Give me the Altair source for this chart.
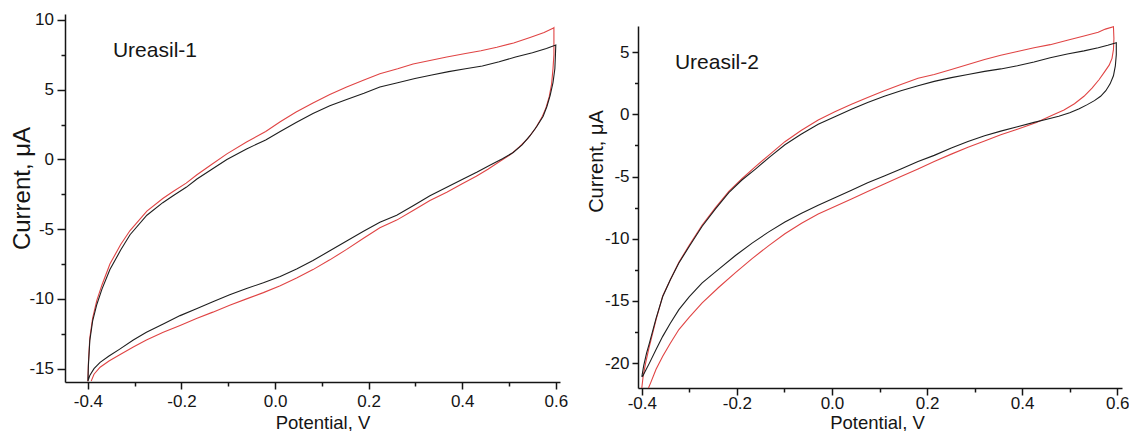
import altair as alt
import pandas as pd

# ---------------- Ureasil-1 (left panel) ----------------
u1_black_fwd_v = [-0.400, -0.399, -0.396, -0.390, -0.381, -0.370, -0.353, -0.330, -0.310, -0.274,
                  -0.240, -0.218, -0.190, -0.167, -0.135, -0.103, -0.061, -0.020, 0.011, 0.045,
                  0.081, 0.117, 0.153, 0.190, 0.224, 0.262, 0.299, 0.335, 0.371, 0.407,
                  0.443, 0.479, 0.514, 0.550, 0.580, 0.600]
u1_black_fwd_i = [-15.9, -14.8, -13.0, -11.6, -10.4, -9.3, -7.9, -6.5, -5.4, -4.0,
                  -3.1, -2.6, -2.0, -1.4, -0.7, 0.0, 0.75, 1.4, 2.0, 2.65,
                  3.3, 3.85, 4.3, 4.75, 5.2, 5.5, 5.8, 6.05, 6.3, 6.5,
                  6.7, 7.0, 7.35, 7.65, 7.95, 8.2]
u1_black_rev_v = [0.600, 0.599, 0.598, 0.594, 0.588, 0.581, 0.573, 0.560, 0.545, 0.528,
                  0.509, 0.486, 0.460, 0.432, 0.402, 0.367, 0.331, 0.296, 0.260, 0.224,
                  0.189, 0.153, 0.117, 0.081, 0.046, 0.011, -0.025, -0.061, -0.097, -0.133,
                  -0.168, -0.203, -0.239, -0.275, -0.303, -0.332, -0.355, -0.374, -0.387, -0.396, -0.400]
u1_black_rev_i = [8.2, 7.3, 6.5, 5.5, 4.6, 3.8, 3.1, 2.4, 1.7, 1.05,
                  0.5, 0.05, -0.4, -0.9, -1.4, -2.0, -2.6, -3.3, -4.0, -4.5,
                  -5.15, -5.85, -6.55, -7.25, -7.85, -8.4, -8.85, -9.25, -9.7, -10.2,
                  -10.7, -11.2, -11.8, -12.4, -12.95, -13.6, -14.1, -14.55, -15.0, -15.5, -15.9]
u1_red_fwd_v = [-0.400, -0.399, -0.396, -0.390, -0.381, -0.370, -0.353, -0.330, -0.310, -0.274,
                -0.240, -0.218, -0.190, -0.167, -0.135, -0.103, -0.061, -0.020, 0.011, 0.045,
                0.081, 0.117, 0.153, 0.190, 0.224, 0.262, 0.295, 0.331, 0.367, 0.407,
                0.440, 0.474, 0.510, 0.545, 0.575, 0.594, 0.596]
u1_red_fwd_i = [-15.9, -14.6, -12.8, -11.4, -10.1, -9.0, -7.5, -6.1, -5.1, -3.7,
                -2.8, -2.3, -1.7, -1.1, -0.35, 0.4, 1.25, 2.0, 2.7, 3.4,
                4.05, 4.65, 5.2, 5.7, 6.15, 6.5, 6.85, 7.1, 7.35, 7.6,
                7.8, 8.05, 8.35, 8.75, 9.1, 9.4, 9.45]
u1_red_rev_v = [0.596, 0.596, 0.596, 0.594, 0.591, 0.586, 0.579, 0.570, 0.556, 0.540,
                0.522, 0.503, 0.480, 0.455, 0.430, 0.400, 0.367, 0.331, 0.296, 0.260,
                0.224, 0.189, 0.153, 0.117, 0.081, 0.046, 0.011, -0.025, -0.061, -0.097,
                -0.133, -0.168, -0.203, -0.239, -0.275, -0.303, -0.332, -0.355, -0.374, -0.387, -0.393]
u1_red_rev_i = [9.45, 8.5, 7.5, 6.5, 5.4, 4.5, 3.7, 3.0, 2.2, 1.5,
                0.9, 0.35, -0.15, -0.7, -1.2, -1.75, -2.35, -2.95, -3.65, -4.35,
                -4.9, -5.65, -6.45, -7.2, -7.9, -8.5, -9.05, -9.55, -10.0, -10.45,
                -10.95, -11.4, -11.9, -12.4, -12.95, -13.45, -14.0, -14.45, -14.9, -15.4, -15.9]

# ---------------- Ureasil-2 (right panel) ----------------
u2_black_fwd_v = [-0.400, -0.396, -0.390, -0.384, -0.370, -0.356, -0.340, -0.322, -0.300, -0.273,
                  -0.245, -0.217, -0.190, -0.161, -0.130, -0.099, -0.065, -0.029, 0.006, 0.041,
                  0.075, 0.110, 0.145, 0.181, 0.215, 0.251, 0.286, 0.321, 0.355, 0.390,
                  0.425, 0.459, 0.495, 0.530, 0.560, 0.580, 0.598]
u2_black_fwd_i = [-21.1, -20.2, -19.2, -18.4, -16.4, -14.65, -13.3, -11.95, -10.6, -9.0,
                  -7.6, -6.3, -5.3, -4.4, -3.4, -2.45, -1.6, -0.8, -0.2, 0.4,
                  0.95, 1.45, 1.9, 2.3, 2.65, 2.95, 3.2, 3.45, 3.65, 3.9,
                  4.2, 4.55, 4.85, 5.1, 5.35, 5.55, 5.75]
u2_black_rev_v = [0.598, 0.598, 0.596, 0.592, 0.585, 0.576, 0.565, 0.552, 0.537, 0.520,
                  0.500, 0.477, 0.452, 0.425, 0.390, 0.355, 0.321, 0.286, 0.251, 0.215,
                  0.181, 0.145, 0.110, 0.075, 0.041, 0.006, -0.029, -0.064, -0.099, -0.133,
                  -0.168, -0.203, -0.238, -0.273, -0.300, -0.322, -0.340, -0.356, -0.370, -0.384,
                  -0.392, -0.398, -0.400]
u2_black_rev_i = [5.75, 4.8, 3.9, 3.1, 2.45, 1.9, 1.45, 1.1, 0.78, 0.45,
                  0.12, -0.15, -0.4, -0.65, -1.0, -1.35, -1.72, -2.18, -2.7, -3.3,
                  -3.8, -4.4, -4.95, -5.5, -6.1, -6.7, -7.3, -7.95, -8.65, -9.45,
                  -10.35, -11.35, -12.45, -13.55, -14.65, -15.7, -16.8, -17.85, -18.9, -20.0,
                  -20.6, -21.05, -21.1]
u2_red_fwd_v = [-0.400, -0.397, -0.392, -0.385, -0.370, -0.356, -0.340, -0.322, -0.300, -0.273,
                -0.245, -0.217, -0.190, -0.161, -0.130, -0.099, -0.065, -0.029, 0.006, 0.041,
                0.075, 0.110, 0.145, 0.181, 0.215, 0.251, 0.286, 0.321, 0.355, 0.390,
                0.425, 0.459, 0.495, 0.530, 0.560, 0.575, 0.592]
u2_red_fwd_i = [-22.0, -21.0, -20.0, -18.8, -16.5, -14.6, -13.3, -11.9, -10.5, -8.9,
                -7.5, -6.2, -5.2, -4.2, -3.2, -2.2, -1.3, -0.45, 0.2, 0.8,
                1.35, 1.9, 2.4, 2.9, 3.2, 3.6, 4.0, 4.4, 4.75, 5.05,
                5.35, 5.6, 5.95, 6.3, 6.6, 6.85, 7.05]
u2_red_rev_v = [0.592, 0.593, 0.592, 0.589, 0.583, 0.574, 0.562, 0.547, 0.530, 0.510,
                0.488, 0.462, 0.430, 0.390, 0.355, 0.321, 0.286, 0.251, 0.215, 0.181,
                0.145, 0.110, 0.075, 0.041, 0.006, -0.029, -0.064, -0.099, -0.133, -0.168,
                -0.203, -0.238, -0.273, -0.300, -0.322, -0.340, -0.356, -0.370, -0.381, -0.386]
u2_red_rev_i = [7.05, 6.1, 5.2, 4.5, 3.95, 3.45, 2.8, 2.1, 1.45, 0.85,
                0.35, -0.1, -0.65, -1.2, -1.65, -2.15, -2.65, -3.2, -3.8, -4.4,
                -5.0, -5.6, -6.2, -6.8, -7.4, -8.02, -8.75, -9.6, -10.55, -11.6,
                -12.72, -13.9, -15.15, -16.3, -17.3, -18.4, -19.45, -20.5, -21.55, -22.0]

# ---------------- ticks and labels ----------------
x_ticks = [-0.4, -0.3, -0.2, -0.1, 0.0, 0.1, 0.2, 0.3, 0.4, 0.5, 0.6]
u1_y_ticks = [-15, -12.5, -10, -7.5, -5, -2.5, 0, 2.5, 5, 7.5, 10]
u2_y_ticks = [-20, -17.5, -15, -12.5, -10, -7.5, -5, -2.5, 0, 2.5, 5]
panel_labels = ["Ureasil-1", "Ureasil-2"]
label_v = [-0.3465, -0.3304]
label_i = [7.32, 3.66]
x_title = "Potential, V"
y_title = "Current, \u03bcA"

FONT = "Liberation Sans"
INK = "#151515"
BLACK = "#1e1e1e"
RED = "#e04444"


def loop_df(fv, fi, rv, ri):
    v = list(fv) + list(rv)
    i = list(fi) + list(ri)
    return pd.DataFrame({"V": v, "I": i, "order": list(range(len(v)))})


X_MAJOR = "abs(round(datum.value*10)) % 2 == 0"
X_LABEL = X_MAJOR + " ? (datum.value < -0.001 ? '-' : '') + format(abs(datum.value), '.1f') : ''"
Y_MAJOR = "datum.value % 5 == 0"
Y_LABEL = Y_MAJOR + " ? (datum.value < 0 ? '-' : '') + format(abs(datum.value), 'd') : ''"

common_axis = dict(
    grid=False, domainColor=INK, domainWidth=1.5, tickColor=INK, tickWidth=1.5,
    labelFont=FONT, labelFontSize=17, labelColor=INK, labelFlush=False, labelOverlap=False,
    titleFont=FONT, titleColor=INK, titleFontWeight="normal",
)


def make_panel(red_df, black_df, xdom, xrange, ydom, yrange, xaxis, yaxis, lab_df):
    xs = alt.Scale(domain=xdom, range=xrange, nice=False, zero=False)
    ys = alt.Scale(domain=ydom, range=yrange, nice=False, zero=False)
    X = alt.X("V:Q", scale=xs, axis=xaxis)
    Y = alt.Y("I:Q", scale=ys, axis=yaxis)
    red = alt.Chart(red_df).mark_line(color=RED, strokeWidth=1.1).encode(
        x=X, y=Y, order=alt.Order("order:Q"))
    black = alt.Chart(black_df).mark_line(color=BLACK, strokeWidth=1.1).encode(
        x=X, y=Y, order=alt.Order("order:Q"))
    txt = alt.Chart(lab_df).mark_text(
        align="left", baseline="alphabetic", font=FONT, fontSize=21, color=INK
    ).encode(x=X, y=Y, text="label:N")
    return alt.layer(red, black, txt)


# Left panel axes (plot origin is 1px higher than before: top padding 6)
u1_xaxis = alt.Axis(
    values=x_ticks, labelExpr=X_LABEL, orient="bottom", offset=-6,
    tickSize={"condition": {"test": X_MAJOR, "value": 7}, "value": 4},
    labelPadding=4, title=x_title, titleFontSize=18.5,
    titleX=257.5, titleY=46, titleAlign="center", titleBaseline="alphabetic",
    **common_axis)
u1_yaxis = alt.Axis(
    values=u1_y_ticks, labelExpr=Y_LABEL, orient="left", offset=0,
    tickSize={"condition": {"test": Y_MAJOR, "value": 8}, "value": 4},
    labelPadding=3.5, title=y_title, titleFontSize=24, titleAngle=270,
    titleX=-36, titleY=174, titleAlign="center", titleBaseline="alphabetic",
    **common_axis)

# Right panel axes
u2_xaxis = alt.Axis(
    values=x_ticks, labelExpr=X_LABEL, orient="bottom", offset=0,
    tickSize={"condition": {"test": X_MAJOR, "value": 7}, "value": 4},
    labelPadding=0, title=x_title, titleFontSize=18.5,
    titleX=812, titleY=40, titleAlign="center", titleBaseline="alphabetic",
    **common_axis)
u2_yaxis = alt.Axis(
    values=u2_y_ticks, labelExpr=Y_LABEL, orient="left", offset=-573,
    tickSize={"condition": {"test": Y_MAJOR, "value": 6}, "value": 3.5},
    labelPadding=3, title=y_title, titleFontSize=20, titleAngle=270,
    titleX=-36, titleY=147, titleAlign="center", titleBaseline="alphabetic",
    **common_axis)

left = make_panel(
    loop_df(u1_red_fwd_v, u1_red_fwd_i, u1_red_rev_v, u1_red_rev_i),
    loop_df(u1_black_fwd_v, u1_black_fwd_i, u1_black_rev_v, u1_black_rev_i),
    [-0.449, 0.609], [0, 495], [-15.96, 10.43], [368, 0],
    u1_xaxis, u1_yaxis,
    pd.DataFrame({"V": [label_v[0]], "I": [label_i[0]], "label": [panel_labels[0]]}))

right = make_panel(
    loop_df(u2_red_fwd_v, u2_red_fwd_i, u2_red_rev_v, u2_red_rev_i),
    loop_df(u2_black_fwd_v, u2_black_fwd_i, u2_black_rev_v, u2_black_rev_i),
    [-0.408, 0.61], [573, 1057], [-22.0, 7.1], [374, 12],
    u2_xaxis, u2_yaxis,
    pd.DataFrame({"V": [label_v[1]], "I": [label_i[1]], "label": [panel_labels[1]]}))

chart = alt.layer(left, right).resolve_scale(
    x="independent", y="independent"
).resolve_axis(
    x="independent", y="independent"
).properties(
    width=1060, height=374,
    autosize=alt.AutoSizeParams(type="none"),
    padding={"left": 57, "top": 6, "right": 4, "bottom": 43},
    background="white",
).configure_view(stroke=None)

chart.save("out.html", embed_options={"renderer": "svg", "actions": False})
